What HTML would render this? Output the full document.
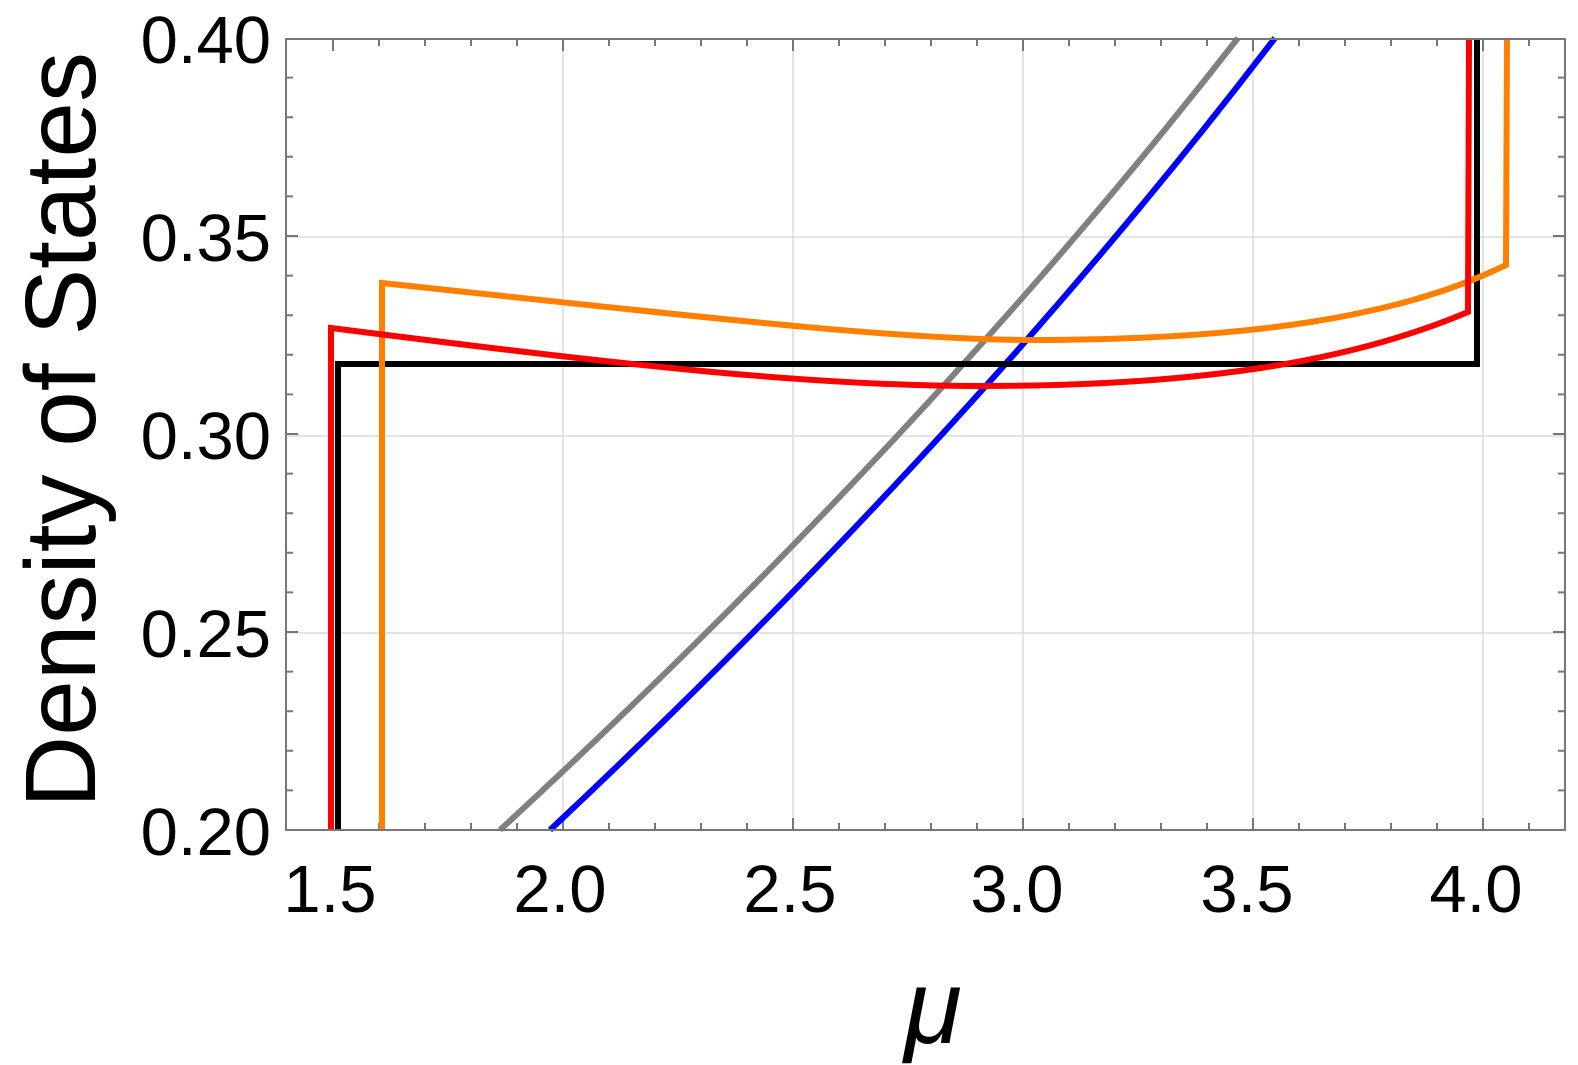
<!DOCTYPE html>
<html><head><meta charset="utf-8"><style>
html,body{margin:0;padding:0;background:#fff;width:1578px;height:1065px;overflow:hidden;}
svg{display:block;font-family:"Liberation Sans",Arial,sans-serif;}
</style></head><body>
<svg width="1578" height="1065" viewBox="0 0 1578 1065" xmlns="http://www.w3.org/2000/svg">
<rect width="1578" height="1065" fill="#fff"/>
<g stroke="#dcdcdc" stroke-width="1.5">
<line x1="563" y1="39" x2="563" y2="830"/>
<line x1="793" y1="39" x2="793" y2="830"/>
<line x1="1023" y1="39" x2="1023" y2="830"/>
<line x1="1253" y1="39" x2="1253" y2="830"/>
<line x1="1483" y1="39" x2="1483" y2="830"/>
<line x1="286" y1="237" x2="1565" y2="237"/>
<line x1="286" y1="436" x2="1565" y2="436"/>
<line x1="286" y1="633" x2="1565" y2="633"/>
</g>
<g stroke="#777" stroke-width="2">
<path d="M333,830v-12M333,39v12M379,830v-7M379,39v7M425,830v-7M425,39v7M471,830v-7M471,39v7M517,830v-7M517,39v7M563,830v-12M563,39v12M609,830v-7M609,39v7M655,830v-7M655,39v7M701,830v-7M701,39v7M747,830v-7M747,39v7M793,830v-12M793,39v12M839,830v-7M839,39v7M885,830v-7M885,39v7M931,830v-7M931,39v7M977,830v-7M977,39v7M1023,830v-12M1023,39v12M1069,830v-7M1069,39v7M1115,830v-7M1115,39v7M1161,830v-7M1161,39v7M1207,830v-7M1207,39v7M1253,830v-12M1253,39v12M1299,830v-7M1299,39v7M1345,830v-7M1345,39v7M1391,830v-7M1391,39v7M1437,830v-7M1437,39v7M1483,830v-12M1483,39v12M1529,830v-7M1529,39v7"/>
<path d="M286,790.4h7M1565,790.4h-7M286,750.8h7M1565,750.8h-7M286,711.2h7M1565,711.2h-7M286,671.6h7M1565,671.6h-7M286,632h12M1565,632h-12M286,592.4h7M1565,592.4h-7M286,552.8h7M1565,552.8h-7M286,513.2h7M1565,513.2h-7M286,473.6h7M1565,473.6h-7M286,434h12M1565,434h-12M286,394.4h7M1565,394.4h-7M286,354.8h7M1565,354.8h-7M286,315.2h7M1565,315.2h-7M286,275.6h7M1565,275.6h-7M286,236h12M1565,236h-12M286,196.4h7M1565,196.4h-7M286,156.8h7M1565,156.8h-7M286,117.2h7M1565,117.2h-7M286,77.6h7M1565,77.6h-7"/>
</g>
<g fill="none" stroke-width="6" stroke-linejoin="miter">
<path d="M500,830 Q929,434 1238,38" stroke="#808080"/>
<path d="M550,830 Q972,434 1275,38" stroke="#0000ff"/>
<path d="M338,830 L338,364 L1477,364 L1477,38" stroke="#000"/>
<path d="M382,830 L382,283 C700,317 900,340 1030,340 C1250,340 1400,317 1506,265 L1507,38" stroke="#ff8000"/>
<path d="M331,830 L331,328 C600,362 800,386 980,386 C1200,386 1350,362 1468,312 L1469,38" stroke="#ff0000"/>
</g>
<rect x="286" y="39" width="1279" height="791" fill="none" stroke="#777" stroke-width="2"/>
<g font-size="67" fill="#000" text-anchor="end">
<text x="271" y="63">0.40</text>
<text x="271" y="261">0.35</text>
<text x="271" y="459">0.30</text>
<text x="271" y="657">0.25</text>
<text x="271" y="855">0.20</text>
</g>
<g font-size="67" fill="#000" text-anchor="middle">
<text x="330" y="912">1.5</text>
<text x="560" y="912">2.0</text>
<text x="790" y="912">2.5</text>
<text x="1017" y="912">3.0</text>
<text x="1247" y="912">3.5</text>
<text x="1476" y="912">4.0</text>
</g>
<text transform="translate(95,430) rotate(-90)" font-size="100" text-anchor="middle" fill="#000">Density of States</text>
<text x="933" y="1043" font-size="105" font-style="italic" text-anchor="middle" fill="#000">μ</text>
</svg>
</body></html>
